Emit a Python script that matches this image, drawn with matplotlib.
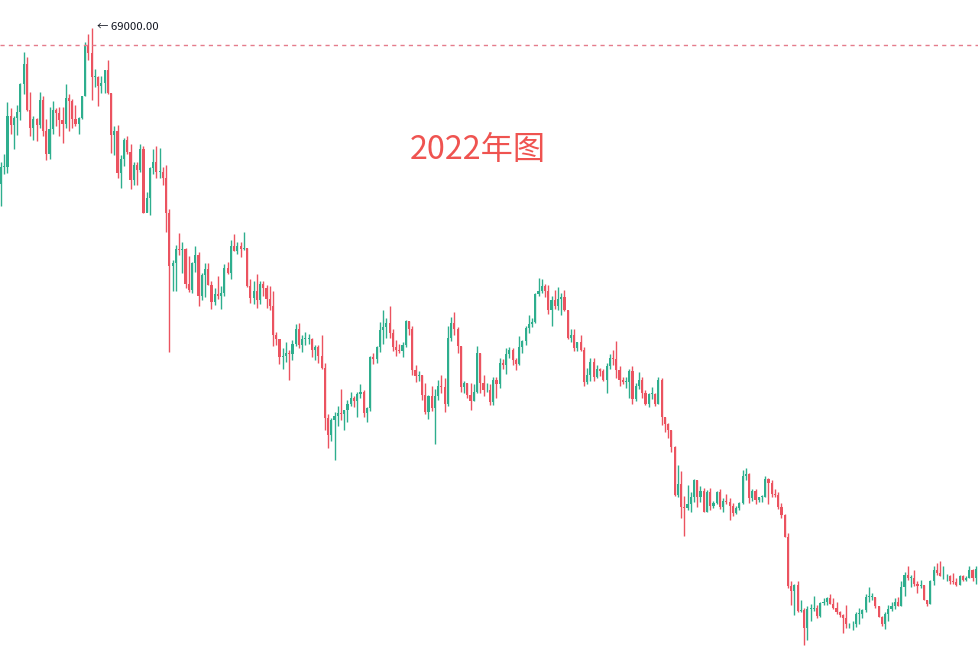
import matplotlib
matplotlib.use("Agg")
import matplotlib.pyplot as plt
import numpy as np
import pandas as pd

# Daily BTC candles (thousand USD), 2021-10-13 .. 2022-08-11
start_date = "2021-10-13"
first_open = 56.0
closes = [
    # Oct 13-31
    57.4, 57.4, 61.7, 60.9, 61.5, 62.0, 64.3, 66.0, 62.2, 60.7, 61.4, 60.9, 63.0, 60.4, 58.5, 60.6, 62.2, 61.9, 61.3,
    # Nov
    61.0, 63.2, 62.9, 61.4, 61.0, 61.5, 63.3, 67.6, 66.9, 64.9, 64.9, 64.2, 64.4, 65.5, 63.6, 60.1, 60.4, 56.9, 58.1, 59.7,
    58.7, 56.3, 57.6, 57.2, 58.9, 53.6, 54.8, 57.3, 57.8, 57.0,
    # Dec
    57.0, 56.5, 53.6, 49.2, 49.4, 50.6, 50.5, 50.6, 47.7, 47.2, 49.4, 50.1, 46.7, 48.4, 48.9, 47.6, 46.2, 46.8, 46.7, 46.9,
    49.0, 48.6, 50.8, 50.4, 50.8, 50.6, 50.7, 47.5, 46.5, 47.1, 46.3,
    # Jan
    47.7, 47.3, 46.4, 45.8, 43.4, 43.1, 41.6, 41.7, 41.9, 41.8, 42.7, 43.9, 42.6, 43.1, 43.1, 43.1, 42.2, 42.4, 41.7, 40.7,
    36.5, 35.1, 36.3, 36.7, 36.9, 36.8, 37.2, 37.7, 38.2, 37.9, 38.5,
    # Feb
    38.7, 36.9, 37.3, 41.6, 41.4, 42.4, 43.8, 44.1, 44.4, 43.6, 42.4, 42.2, 42.1, 42.6, 44.6, 43.9, 40.5, 40.0, 40.1, 38.4,
    37.0, 38.3, 37.3, 38.3, 39.2, 39.1, 37.7, 43.2,
    # Mar
    44.4, 43.9, 42.5, 39.1, 39.4, 38.4, 37.9, 38.7, 41.9, 39.4, 38.8, 38.8, 37.8, 39.7, 39.3, 41.1, 40.9, 41.8, 42.2, 41.3,
    41.0, 42.4, 42.9, 44.0, 44.3, 44.5, 46.8, 47.1, 47.5, 47.1, 45.5,
    # Apr
    46.3, 45.8, 46.4, 46.6, 45.5, 43.2, 43.4, 42.3, 42.8, 42.2, 39.5, 40.1, 41.2, 39.9, 40.6, 40.4, 39.7, 40.8, 41.5, 41.4,
    40.5, 39.7, 39.5, 39.5, 40.4, 38.1, 39.2, 39.7, 38.6, 37.7,
    # May
    38.5, 38.5, 37.7, 39.7, 36.6, 36.0, 35.5, 34.1, 30.1, 31.0, 29.1, 29.0, 29.3, 29.9, 31.3, 29.9, 30.4, 28.7, 30.3, 29.2,
    29.4, 30.3, 29.1, 29.6, 29.5, 29.2, 28.6, 29.0, 29.4, 31.7, 31.8,
    # Jun
    29.8, 30.4, 29.7, 29.9, 29.9, 31.4, 31.1, 30.2, 30.1, 29.1, 28.4, 26.6, 22.5, 22.1, 22.6, 20.4, 20.5, 19.0, 20.6, 20.6,
    20.7, 20.0, 21.1, 21.2, 21.5, 21.0, 20.7, 20.3, 20.1, 19.8,
    # Jul
    19.3, 19.3, 19.3, 20.2, 20.2, 20.5, 21.6, 21.6, 21.6, 20.8, 19.9, 19.3, 20.2, 20.6, 20.8, 21.2, 20.8, 22.4, 23.4, 23.2,
    23.2, 22.7, 22.5, 22.6, 21.3, 21.0, 22.9, 23.8, 23.6, 23.3, 23.3,
    # Aug 1-11
    23.3, 22.9, 22.8, 22.6, 23.3, 23.0, 23.2, 23.8, 23.2, 23.9, 24.4,
]
highs = [
    57.8, 58.5, 62.8, 62.3, 61.7, 62.6, 64.4, 67.0, 66.6, 63.7, 61.7, 61.5, 63.7, 63.3, 61.4, 62.4, 62.9, 62.3, 62.4,
    62.4, 64.3, 63.5, 63.1, 62.6, 61.6, 63.3, 67.8, 68.5, 69.0, 65.6, 65.0, 65.0, 65.5, 66.3, 63.6, 60.8, 60.9, 58.4, 59.8,
    60.0, 59.3, 57.8, 57.8, 59.3, 59.2, 55.3, 57.4, 58.9, 59.2,
    59.0, 57.4, 57.6, 53.9, 49.7, 50.9, 51.9, 51.2, 50.7, 50.0, 49.5, 50.8, 50.3, 48.6, 49.4, 49.4, 47.9, 47.3, 48.3, 47.5,
    49.3, 49.5, 51.3, 51.8, 51.2, 51.2, 52.0, 50.7, 48.1, 47.9, 48.5,
    47.9, 47.9, 47.6, 47.5, 47.1, 43.7, 43.1, 42.3, 42.8, 42.2, 43.0, 44.3, 44.4, 43.4, 43.7, 43.5, 43.2, 42.6, 42.6, 43.4,
    41.1, 36.8, 36.5, 37.0, 37.5, 38.9, 37.2, 38.0, 38.7, 38.3, 38.7,
    39.3, 38.8, 37.4, 41.7, 41.9, 42.5, 44.5, 45.5, 44.8, 45.8, 43.9, 43.0, 42.7, 42.8, 44.7, 44.6, 44.2, 40.9, 40.4, 40.1,
    39.4, 38.4, 39.2, 38.9, 39.7, 40.1, 39.8, 44.2,
    44.9, 45.3, 44.1, 42.5, 39.6, 39.4, 39.4, 39.3, 42.5, 41.9, 40.1, 39.4, 39.3, 39.9, 39.9, 41.5, 41.4, 42.3, 42.4, 42.3,
    41.5, 43.3, 43.0, 44.2, 45.1, 44.8, 46.9, 48.2, 48.1, 47.7, 47.6,
    46.7, 47.2, 47.4, 46.9, 47.2, 45.5, 43.9, 43.9, 42.8, 43.4, 42.4, 40.7, 41.5, 41.5, 40.9, 40.7, 40.6, 41.1, 41.8, 42.2,
    42.9, 40.8, 39.9, 39.9, 40.6, 40.8, 39.4, 40.3, 39.9, 38.8,
    38.6, 39.1, 38.6, 39.9, 39.8, 36.6, 36.1, 35.5, 34.2, 32.6, 32.1, 30.0, 30.9, 30.3, 31.4, 31.3, 30.8, 30.7, 30.5, 30.7,
    29.6, 30.4, 30.6, 29.8, 30.2, 29.8, 29.4, 29.2, 29.5, 32.2, 32.3,
    31.9, 30.6, 30.6, 29.9, 30.1, 31.7, 31.5, 31.3, 30.6, 30.3, 29.4, 28.5, 26.9, 22.9, 22.7, 22.9, 21.3, 20.7, 20.8, 21.0,
    21.7, 20.9, 21.2, 21.5, 21.6, 21.8, 21.5, 21.2, 20.4, 20.2,
    20.9, 19.4, 19.6, 20.3, 20.7, 20.6, 21.8, 22.4, 21.9, 21.6, 20.8, 20.0, 20.3, 20.9, 21.2, 21.5, 21.6, 22.9, 23.7, 24.2,
    23.4, 23.8, 22.9, 23.0, 22.6, 21.3, 23.0, 24.2, 24.4, 24.6, 24.2,
    23.5, 23.4, 23.6, 23.2, 23.4, 23.4, 23.3, 24.2, 23.9, 24.2, 24.8,
]
lows = [
    54.2, 56.8, 56.9, 60.2, 58.9, 60.1, 61.3, 63.5, 62.1, 60.0, 59.7, 59.6, 60.7, 60.0, 58.0, 58.1, 60.2, 60.8, 60.0,
    59.4, 60.7, 60.4, 60.7, 60.8, 60.2, 61.4, 63.3, 66.3, 63.0, 64.1, 62.5, 63.6, 63.6, 63.5, 58.6, 58.4, 56.5, 55.7, 57.5,
    58.5, 55.6, 55.9, 55.9, 57.0, 53.6, 53.7, 53.4, 56.8, 56.5,
    56.5, 55.9, 52.0, 42.0, 47.1, 47.1, 50.1, 48.6, 47.3, 47.0, 46.9, 48.7, 45.8, 46.3, 46.6, 47.6, 45.6, 45.9, 46.4, 45.6,
    46.7, 48.5, 48.1, 50.4, 50.2, 49.9, 50.5, 47.4, 46.1, 46.0, 45.7,
    46.0, 46.7, 45.7, 45.5, 42.5, 42.6, 41.0, 40.6, 41.2, 39.7, 41.3, 42.5, 42.3, 42.0, 42.6, 42.7, 41.6, 41.3, 41.1, 40.6,
    35.5, 34.0, 34.6, 33.0, 35.8, 36.3, 35.5, 36.2, 37.5, 37.4, 36.6,
    38.2, 36.6, 36.2, 37.1, 41.0, 41.1, 42.0, 42.7, 43.2, 43.2, 42.1, 41.7, 41.9, 41.6, 42.4, 43.4, 40.1, 39.5, 39.6, 38.0,
    36.8, 36.4, 37.1, 34.3, 38.0, 38.6, 37.0, 37.5,
    42.9, 43.4, 41.9, 38.7, 38.6, 38.2, 37.2, 37.9, 38.6, 38.6, 38.3, 38.7, 37.6, 37.6, 38.2, 39.0, 40.6, 40.2, 41.5, 40.9,
    40.5, 40.9, 41.9, 42.6, 43.6, 44.1, 44.4, 46.7, 46.9, 46.6, 45.2,
    44.2, 45.6, 45.5, 45.1, 45.4, 43.1, 42.8, 42.1, 42.1, 42.1, 39.2, 39.3, 39.6, 39.6, 39.8, 40.0, 39.6, 38.6, 40.6, 40.9,
    39.8, 39.2, 39.3, 39.0, 38.2, 37.7, 37.9, 38.9, 38.2, 37.6,
    37.4, 38.1, 37.5, 37.7, 35.9, 35.3, 34.8, 33.7, 30.0, 29.9, 28.2, 26.7, 28.8, 28.7, 29.5, 29.1, 29.5, 28.7, 28.7, 28.8,
    29.0, 29.3, 28.9, 28.7, 29.3, 28.0, 28.3, 28.5, 28.8, 29.3, 31.3,
    29.4, 29.6, 29.3, 29.5, 29.5, 29.9, 29.3, 29.9, 29.9, 28.9, 28.2, 26.6, 22.3, 20.9, 20.1, 20.3, 20.3, 17.6, 18.0, 19.6,
    20.4, 19.8, 19.9, 20.9, 20.9, 21.0, 20.6, 20.2, 19.9, 18.6,
    19.0, 19.0, 18.8, 19.1, 19.3, 19.8, 20.3, 21.2, 21.3, 20.7, 19.9, 19.2, 18.9, 19.6, 20.4, 20.6, 20.8, 20.8, 21.7, 23.0,
    22.4, 22.5, 21.9, 22.3, 21.3, 20.8, 21.0, 22.6, 23.4, 23.3, 23.1,
    22.9, 22.7, 22.7, 22.5, 22.6, 22.9, 22.9, 23.2, 22.9, 22.7, 23.9,
]
ath_price = 69.0
ath_label = "← 69000.00"
line_price = 67.6
title_text = "2022年图"

opens = [first_open] + closes[:-1]
dates = pd.date_range(start_date, periods=len(closes), freq="D")
df = pd.DataFrame({"open": opens, "high": highs, "low": lows, "close": closes}, index=dates)

up_color = "#2eae8e"
down_color = "#eb5360"

plt.rcParams["font.family"] = ["Noto Sans CJK SC", "DejaVu Sans"]
fig = plt.figure(figsize=(9.79, 6.68), dpi=100)
ax = fig.add_axes([0, 0, 1, 1])
ax.set_axis_off()

xs = np.arange(len(df))
up = df["close"] >= df["open"]
colors = np.where(up, up_color, down_color)
ax.vlines(xs, df["low"], df["high"], colors=colors, linewidth=1.0)
body_bottom = np.minimum(df["open"], df["close"])
body_height = np.maximum(np.abs(df["close"] - df["open"]), 0.06)
ax.bar(xs, body_height, bottom=body_bottom, width=0.66, color=colors, linewidth=0)

ax.set_xlim(-0.3, 302.0)
ax.set_ylim(15.67, 71.33)

ax.axhline(line_price, color="#e57c8c", linewidth=1.0, linestyle=(0, (3, 3)))

ath_idx = int(np.argmax(df["high"].values))
ax.annotate(ath_label, xy=(ath_idx, ath_price), xytext=(3.5, 0.8), textcoords="offset points",
            fontsize=8.2, color="#131722", va="center", ha="left")

ax.text(0.488, 0.775, title_text, transform=ax.transAxes, fontsize=23.2, color="#ef5350",
        ha="center", va="center")

fig.savefig("out.png", dpi=100)
